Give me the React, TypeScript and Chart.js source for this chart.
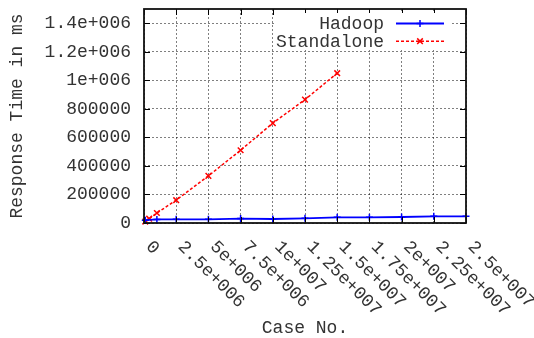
import { useEffect, useRef } from "react";
import { Chart, registerables } from "chart.js";

Chart.register(...registerables);

const hadoopX = [1e5, 1e6, 2.5e6, 5e6, 7.5e6, 1e7, 1.25e7, 1.5e7, 1.75e7, 2e7, 2.25e7, 2.5e7];
const hadoopY = [20000, 25000, 26000, 26000, 31000, 28000, 33000, 40000, 40000, 42000, 47000, 47000];
const standaloneX = [1e5, 4e5, 1e6, 2.5e6, 5e6, 7.5e6, 1e7, 1.25e7, 1.5e7];
const standaloneY = [10000, 30000, 70000, 160000, 330000, 510000, 700000, 865000, 1050000];
const xTickValues = [0, 2.5e6, 5e6, 7.5e6, 1e7, 1.25e7, 1.5e7, 1.75e7, 2e7, 2.25e7, 2.5e7];
const xTickLabels = ["0", "2.5e+006", "5e+006", "7.5e+006", "1e+007", "1.25e+007", "1.5e+007", "1.75e+007", "2e+007", "2.25e+007", "2.5e+007"];
const yTickValues = [0, 200000, 400000, 600000, 800000, 1000000, 1200000, 1400000];
const yTickLabels = ["0", "200000", "400000", "600000", "800000", "1e+006", "1.2e+006", "1.4e+006"];
const seriesNames = ["Hadoop", "Standalone"];
const xRange = [0, 2.5e7];
const yRange = [0, 1.5e6];

const FONT = '"Liberation Mono", "Courier New", monospace';
const TEXT = "#333";

const gnuplotPlugin = {
  id: "gnuplotDecor",
  afterDatasetsDraw(chart: any) {
    const { ctx, chartArea, scales } = chart;
    const { left, right, top, bottom } = chartArea;
    ctx.save();
    ctx.strokeStyle = "#000";
    ctx.lineWidth = 1;
    ctx.setLineDash([]);
    const tl = 6;
    scales.x.ticks.forEach((t: any) => {
      const px = Math.round(scales.x.getPixelForValue(t.value)) + 0.5;
      ctx.beginPath();
      ctx.moveTo(px, bottom);
      ctx.lineTo(px, bottom - tl);
      ctx.moveTo(px, top);
      ctx.lineTo(px, top + tl);
      ctx.stroke();
    });
    scales.y.ticks.forEach((t: any) => {
      const py = Math.round(scales.y.getPixelForValue(t.value)) + 0.5;
      ctx.beginPath();
      ctx.moveTo(left, py);
      ctx.lineTo(left + tl, py);
      ctx.moveTo(right, py);
      ctx.lineTo(right - tl, py);
      ctx.stroke();
    });
    ctx.lineWidth = 1.8;
    ctx.strokeStyle = "#111";
    ctx.strokeRect(left, top, right - left, bottom - top);
    ctx.fillStyle = TEXT;
    ctx.font = `18px ${FONT}`;
    ctx.textAlign = "left";
    ctx.textBaseline = "middle";
    scales.x.ticks.forEach((t: any, i: number) => {
      const px = scales.x.getPixelForValue(t.value);
      ctx.save();
      ctx.translate(px + 4.5, bottom + 21);
      ctx.rotate(Math.PI / 4);
      ctx.fillText(xTickLabels[i] ?? "", 0, 0);
      ctx.restore();
    });
    ctx.restore();
  },
  afterDraw(chart: any) {
    const { ctx } = chart;
    ctx.save();
    ctx.fillStyle = "#fff";
    ctx.fillRect(274, 13, 178, 37);
    ctx.font = `18px ${FONT}`;
    ctx.textAlign = "right";
    ctx.textBaseline = "middle";
    chart.data.datasets.forEach((ds: any, i: number) => {
      const y = 23.5 + i * 17.7;
      ctx.fillStyle = TEXT;
      ctx.fillText(ds.label, 384, y + 1);
      ctx.strokeStyle = ds.borderColor;
      ctx.lineWidth = ds.borderWidth;
      ctx.setLineDash(ds.borderDash || []);
      ctx.beginPath();
      ctx.moveTo(396, y);
      ctx.lineTo(444, y);
      ctx.stroke();
      ctx.setLineDash([]);
      ctx.lineWidth = 1.5;
      const r = 3.5;
      ctx.beginPath();
      if (ds.pointStyle === "cross") {
        ctx.moveTo(420 - r, y);
        ctx.lineTo(420 + r, y);
        ctx.moveTo(420, y - r);
        ctx.lineTo(420, y + r);
      } else {
        ctx.moveTo(420 - r * 0.8, y - r * 0.8);
        ctx.lineTo(420 + r * 0.8, y + r * 0.8);
        ctx.moveTo(420 - r * 0.8, y + r * 0.8);
        ctx.lineTo(420 + r * 0.8, y - r * 0.8);
      }
      ctx.stroke();
    });
    ctx.restore();
  },
};

export default function App() {
  const ref = useRef<HTMLCanvasElement | null>(null);
  useEffect(() => {
    document.body.style.margin = "0";
    const canvas = ref.current;
    if (!canvas) return;
    const chart = new Chart(canvas, {
      type: "scatter",
      data: {
        datasets: [
          {
            label: seriesNames[0],
            data: hadoopX.map((x, i) => ({ x, y: hadoopY[i] })),
            showLine: true,
            borderColor: "#0000ff",
            backgroundColor: "#0000ff",
            borderWidth: 1.8,
            pointStyle: "cross",
            pointRadius: 3.5,
            pointBorderWidth: 1.5,
            clip: false,
          },
          {
            label: seriesNames[1],
            data: standaloneX.map((x, i) => ({ x, y: standaloneY[i] })),
            showLine: true,
            borderColor: "#ff0000",
            backgroundColor: "#ff0000",
            borderWidth: 1.5,
            borderDash: [3, 2],
            pointStyle: "crossRot",
            pointRadius: 4,
            pointBorderWidth: 1.5,
            clip: false,
          },
        ] as any,
      },
      options: {
        animation: false,
        responsive: false,
        layout: { padding: { top: 9, right: 68, left: 0, bottom: 0 } },
        plugins: { legend: { display: false }, tooltip: { enabled: false } },
        scales: {
          x: {
            type: "linear",
            min: xRange[0],
            max: xRange[1],
            ticks: { display: false, autoSkip: false },
            afterDataLimits: (s: any) => {
              s.min = xRange[0];
              s.max = xRange[1];
            },
            afterBuildTicks: (s: any) => {
              s.min = xRange[0];
              s.max = xRange[1];
              s.ticks = xTickValues.map((v) => ({ value: v }));
            },
            grid: { color: "rgba(0,0,0,0.5)", lineWidth: 1, drawTicks: false },
            border: { display: false, dash: [2, 2] },
            title: {
              display: true,
              text: "Case No.",
              color: TEXT,
              font: { family: FONT, size: 18, lineHeight: 1.1 },
              padding: { top: 0, bottom: 0 },
            },
            afterFit: (s: any) => {
              s.height = 115;
              s.paddingLeft = 0;
              s.paddingRight = 0;
            },
          },
          y: {
            type: "linear",
            min: yRange[0],
            max: yRange[1],
            afterDataLimits: (s: any) => {
              s.min = yRange[0];
              s.max = yRange[1];
            },
            afterBuildTicks: (s: any) => {
              s.min = yRange[0];
              s.max = yRange[1];
              s.ticks = yTickValues.map((v) => ({ value: v }));
            },
            ticks: {
              autoSkip: false,
              color: TEXT,
              font: { family: FONT, size: 18 },
              padding: 13,
              callback: (_v: any, i: number) => yTickLabels[i] ?? "",
            },
            grid: { color: "rgba(0,0,0,0.5)", lineWidth: 1, drawTicks: false },
            border: { display: false, dash: [2, 2] },
            title: {
              display: true,
              text: "Response Time in ms",
              color: TEXT,
              font: { family: FONT, size: 18 },
              padding: { top: 6, bottom: 0 },
            },
            afterFit: (s: any) => {
              s.width = 144;
              s.paddingTop = 0;
              s.paddingBottom = 0;
            },
          },
        },
      } as any,
      plugins: [gnuplotPlugin],
    });
    return () => chart.destroy();
  }, []);
  return <canvas ref={ref} width={534} height={338} style={{ display: "block" }} />;
}
